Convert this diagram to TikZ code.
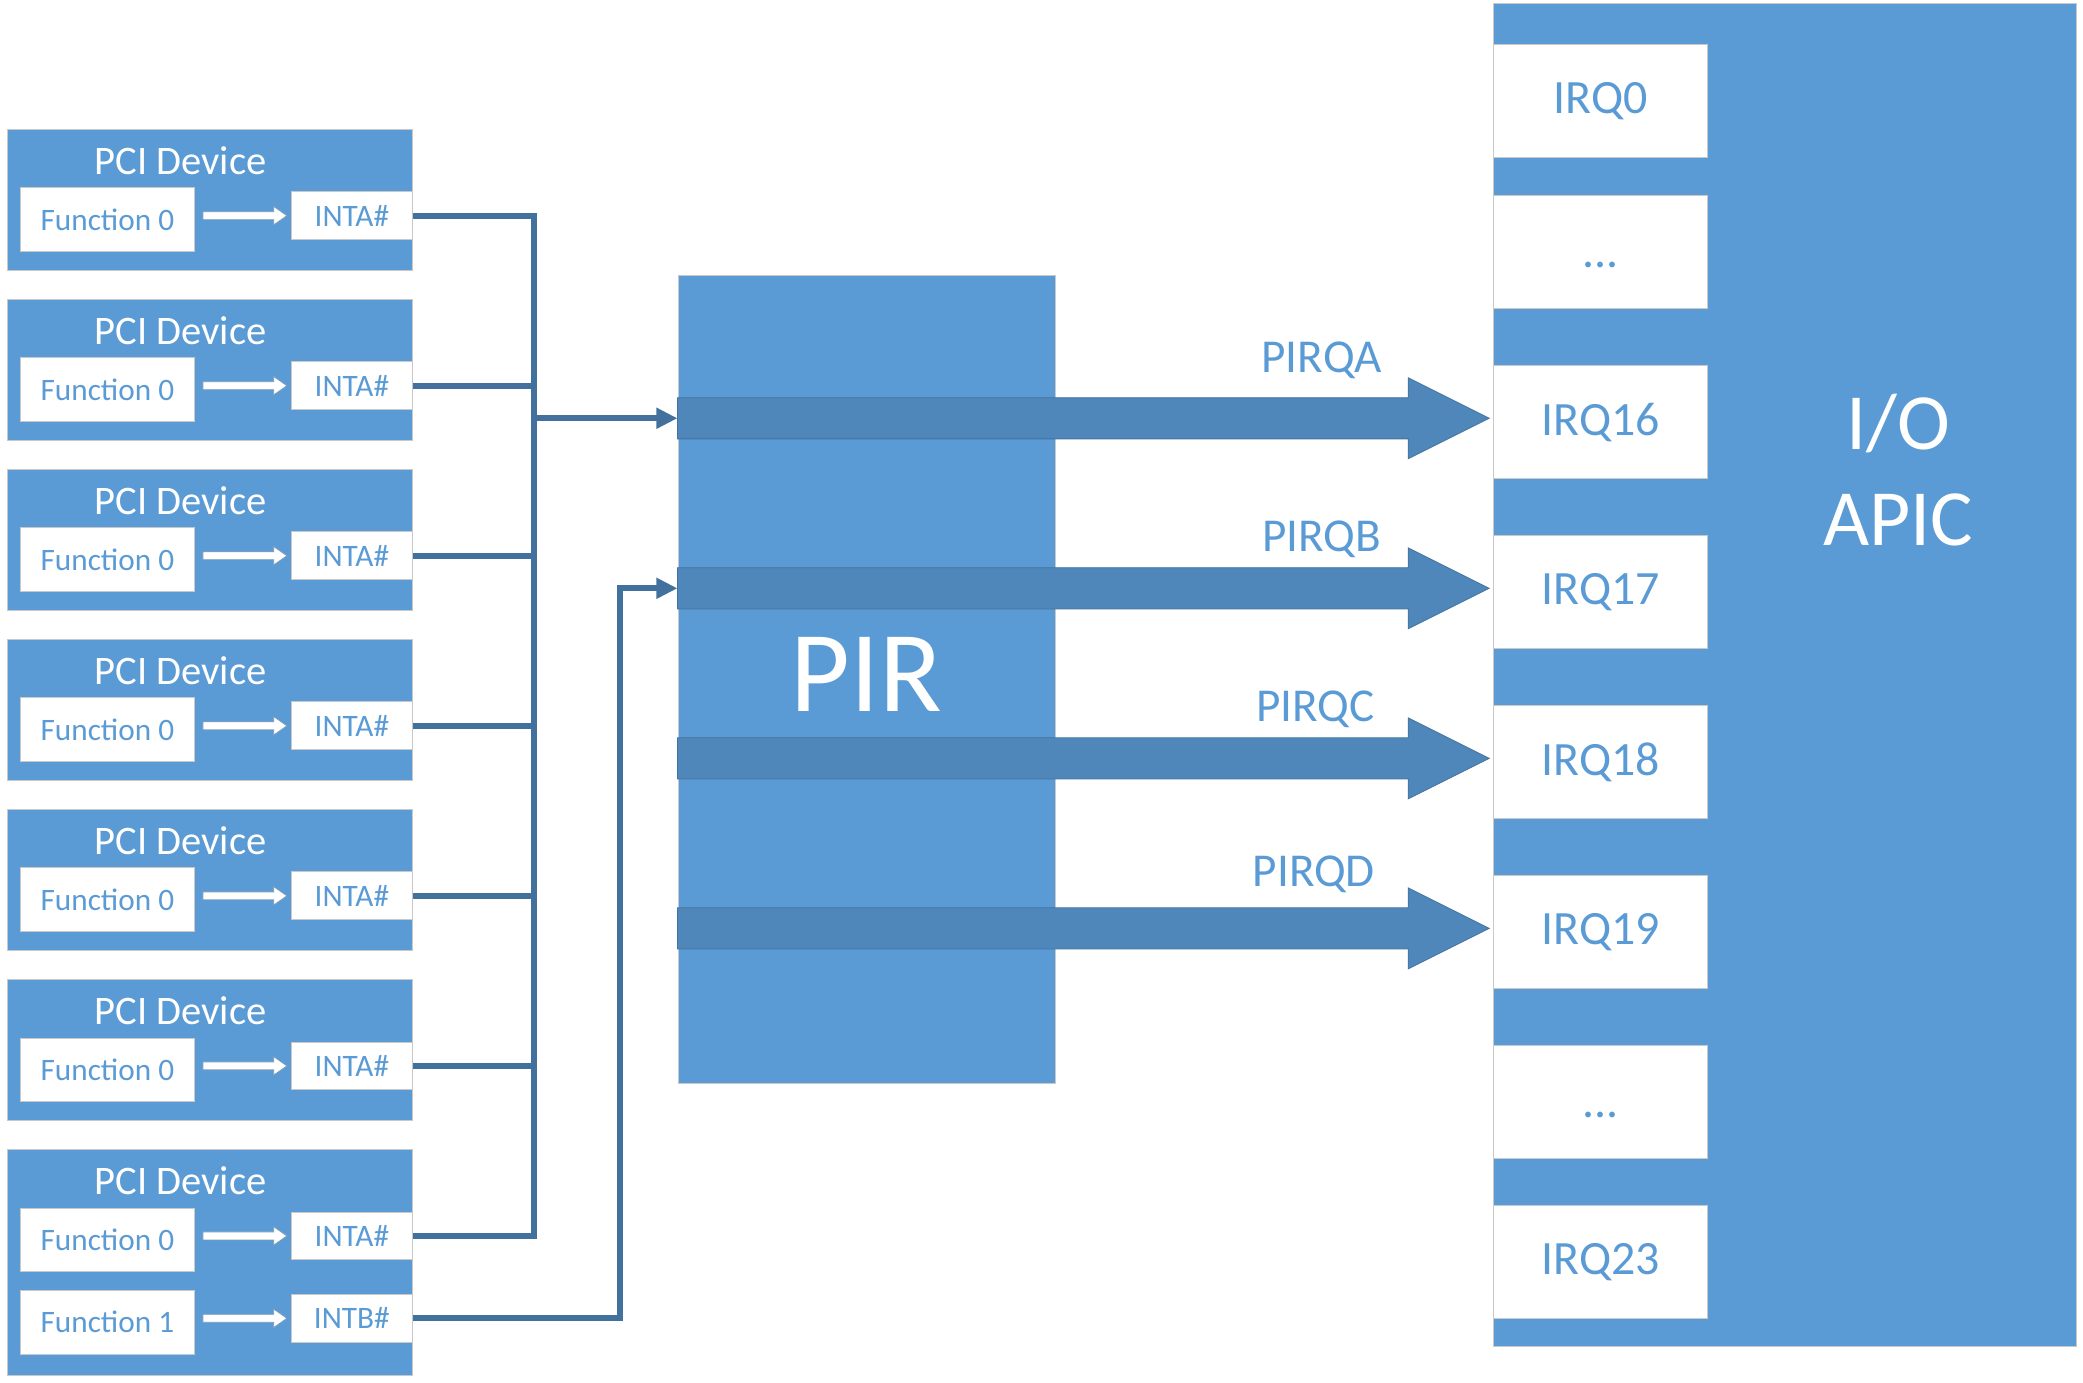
\documentclass[tikz,border=0pt]{standalone}
\usepackage{fontspec}
\setmainfont{Carlito}
\usetikzlibrary{arrows.meta,calc}
\definecolor{boxblue}{HTML}{5B9BD5}
\definecolor{wireblue}{HTML}{41719C}
\definecolor{fatblue}{HTML}{4F87BA}
\definecolor{edgegray}{HTML}{C9C9C9}
\begin{document}
\begin{tikzpicture}[x=1pt,y=-1pt,
  bluebox/.style={draw=edgegray, line width=0.7pt, fill=boxblue, inner sep=0pt, anchor=north west},
  whitebox/.style={draw=edgegray, line width=0.7pt, fill=white, inner sep=0pt, anchor=north west, text=boxblue},
  devbox/.style={bluebox, minimum width=305pt},
  titletext/.style={text=white, font=\fontsize{30.5}{32}\selectfont, inner sep=0pt},
  fbox/.style={whitebox, minimum width=131pt, minimum height=48pt, font=\fontsize{23.5}{25}\selectfont},
  ibox/.style={whitebox, minimum width=91pt, minimum height=36pt, font=\fontsize{23.5}{25}\selectfont},
  irqbox/.style={whitebox, minimum width=161pt, minimum height=85pt, font=\fontsize{36}{38}\selectfont},
  warrow/.style={fill=white, draw=wireblue!70, line width=0.6pt},
  wire/.style={draw=wireblue, line width=4.5pt, line join=miter},
  wiretip/.style={-{Triangle[length=16pt,width=15pt]}},
  fatarrow/.style={fill=fatblue, draw=fatblue!85!black, line width=0.6pt},
  pirqlabel/.style={text=boxblue, font=\fontsize{35.5}{37}\selectfont, inner sep=0pt}
]
\useasboundingbox (0,0) rectangle (1568,1041);

% PCI devices
\foreach \k/\h in {1/106,2/106,3/106,4/106,5/106,6/106,7/170} {
  \pgfmathsetmacro\t{97+128*(\k-1)}
  \node[devbox, minimum height=\h pt] (dev\k) at (5,\t) {};
  \node[titletext] (title\k) at (136,\t+24) {PCI Device};
  \node[fbox] (fa\k) at (15,\t+44) {Function 0};
  \node[ibox] (ia\k) at (219,\t+47) {INTA\#};
  \path[warrow] let \p1=(fa\k.east), \p2=(ia\k.west) in
    (\x1+6pt,\y2+3pt) -- (\x2-13pt,\y2+3pt) -- (\x2-13pt,\y2+7pt) -- (\x2-3pt,\y2)
    -- (\x2-13pt,\y2-7pt) -- (\x2-13pt,\y2-3pt) -- (\x1+6pt,\y2-3pt) -- cycle;
}
% second function of last device
\node[fbox] (fb7) at (15,971) {Function 1};
\node[ibox] (ib7) at (219,974) {INTB\#};
\path[warrow] let \p1=(fb7.east), \p2=(ib7.west) in
  (\x1+6pt,\y2+3pt) -- (\x2-13pt,\y2+3pt) -- (\x2-13pt,\y2+7pt) -- (\x2-3pt,\y2)
  -- (\x2-13pt,\y2-7pt) -- (\x2-13pt,\y2-3pt) -- (\x1+6pt,\y2-3pt) -- cycle;

% PIR
\node[bluebox, minimum width=284pt, minimum height=608pt] (pir) at (510,207) {};
\node[text=white, font=\fontsize{87}{90}\selectfont, inner sep=0pt] (pirlabel) at (652,508) {PIR};

% I/O APIC
\node[bluebox, minimum width=439pt, minimum height=1011pt] (apic) at (1124,2) {};
\node[text=white, font=\fontsize{60}{72}\selectfont, align=center, inner sep=0pt] (apiclabel) at (1429,354) {I/O\\APIC};

% IRQ boxes
\node[irqbox] (irq0) at (1124,33) {IRQ0};
\node[irqbox] (irqd1) at (1124,147) {\vphantom{I}...};
\node[irqbox] (irq16) at (1124,275) {IRQ16};
\node[irqbox] (irq17) at (1124,403) {IRQ17};
\node[irqbox] (irq18) at (1124,531) {IRQ18};
\node[irqbox] (irq19) at (1124,659) {IRQ19};
\node[irqbox] (irqd2) at (1124,787) {\vphantom{I}...};
\node[irqbox] (irq23) at (1124,907) {IRQ23};

% fat PIRQ arrows
\foreach \q in {16,17,18,19} {
  \path[fatarrow] let \p1=(pir.west |- irq\q.west), \p2=(irq\q.west) in
    (\x1,\y2-12.5pt) -- (\x2-64pt,\y2-12.5pt) -- (\x2-64pt,\y2-27.5pt) -- (\x2-3pt,\y2+3pt)
    -- (\x2-64pt,\y2+33.5pt) -- (\x2-64pt,\y2+18.5pt) -- (\x1,\y2+18.5pt) -- cycle;
}
\node[pirqlabel] (pirqa) at (995,271) {PIRQA};
\node[pirqlabel] (pirqb) at (995,406) {PIRQB};
\node[pirqlabel] (pirqc) at (990,534) {PIRQC};
\node[pirqlabel] (pirqd) at (989,658) {PIRQD};

% wires
\coordinate (busx) at (402,0);
\coordinate (bbx) at (467,0);
\coordinate (inA) at ($(pir.west |- irq16.west)+(0,-3)$);
\coordinate (inB) at ($(pir.west |- irq17.west)+(0,-3)$);
\draw[wire] (ia1.east) -| (busx |- ia7.east) -- (ia7.east);
\foreach \k in {2,...,6} { \draw[wire] (ia\k.east) -- (busx |- ia\k.east); }
\draw[wire, wiretip] (busx |- inA) -- (inA);
\draw[wire, wiretip] (ib7.east) -| (bbx |- inB) -- (inB);
\end{tikzpicture}
\end{document}
